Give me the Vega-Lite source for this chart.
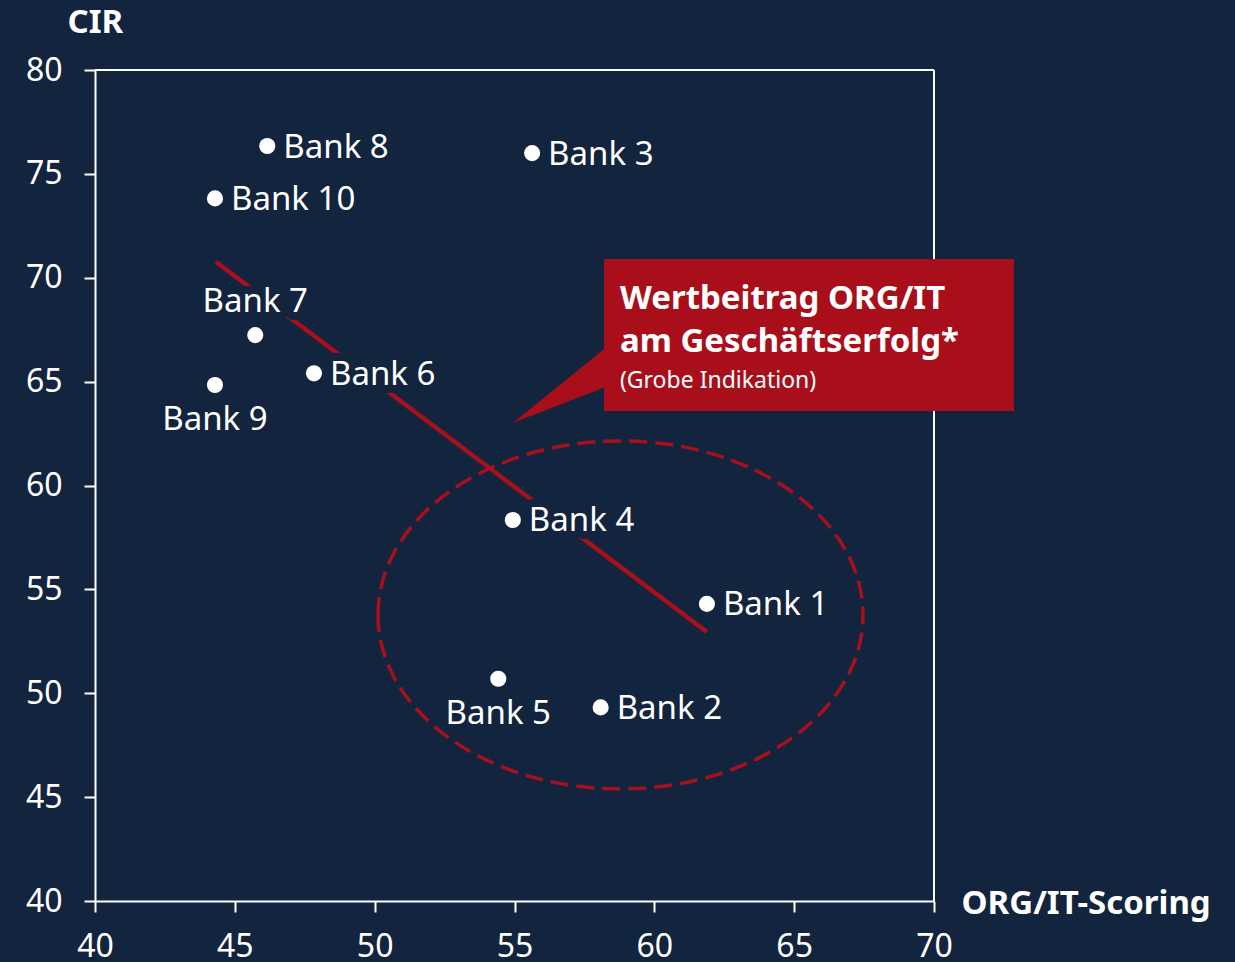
{
  "$schema": "https://vega.github.io/schema/vega-lite/v6.json",
  "width": 839,
  "height": 831,
  "autosize": "none",
  "padding": {"left": 95, "top": 70, "right": 301, "bottom": 61},
  "background": "#13243e",
  "config": {
    "view": {"stroke": null},
    "font": "Noto Sans",
    "axis": {
      "grid": false,
      "domainColor": "#ffffff",
      "domainWidth": 2,
      "tickColor": "#ffffff",
      "tickWidth": 2,
      "tickSize": 11,
      "labelColor": "#ffffff",
      "labelFontSize": 32,
      "labelFont": "Noto Sans",
      "titleColor": "#ffffff",
      "titleFont": "Noto Sans",
      "titleFontSize": 33,
      "titleFontWeight": "bold"
    }
  },
  "datasets": {
    "banks": [
      {"bank": "Bank 1", "x": 61.88, "y": 54.30},
      {"bank": "Bank 2", "x": 58.08, "y": 49.32},
      {"bank": "Bank 3", "x": 55.63, "y": 76.0},
      {"bank": "Bank 4", "x": 54.94, "y": 58.34},
      {"bank": "Bank 5", "x": 54.42, "y": 50.70},
      {"bank": "Bank 6", "x": 47.83, "y": 65.40},
      {"bank": "Bank 7", "x": 45.73, "y": 67.24},
      {"bank": "Bank 8", "x": 46.16, "y": 76.34},
      {"bank": "Bank 9", "x": 44.29, "y": 64.84},
      {"bank": "Bank 10", "x": 44.29, "y": 73.82}
    ],
    "frame": [
      {"x": 70, "y": 80}
    ],
    "trend": [
      {"x": 44.33, "y": 70.76},
      {"x": 61.88, "y": 52.95}
    ],
    "ellipse": [
      {"x": 58.79, "y": 53.77}
    ],
    "pointer": [
      {"x": 54.94, "y": 63.01, "y2": 63.01},
      {"x": 58.25, "y": 66.62, "y2": 64.745}
    ],
    "box": [
      {"x": 58.2, "x2": 72.86, "y": 70.9, "y2": 63.59}
    ],
    "boxTitle": [
      {"x": 58.77, "y": 68.5, "text": "Wertbeitrag ORG/IT"},
      {"x": 58.77, "y": 66.43, "text": "am Geschäftserfolg*"}
    ],
    "boxSub": [
      {"x": 58.77, "y": 64.7, "text": "(Grobe Indikation)"}
    ]
  },
  "layer": [
    {
      "data": {"name": "banks"},
      "mark": {"type": "point", "shape": "circle", "filled": true, "color": "#ffffff", "size": 260, "opacity": 1},
      "encoding": {
        "x": {
          "field": "x", "type": "quantitative",
          "scale": {"domain": [40, 70], "nice": false, "zero": false},
          "axis": {
            "values": [40, 45, 50, 55, 60, 65, 70],
            "title": "ORG/IT-Scoring",
            "titleAlign": "left",
            "titleBaseline": "alphabetic",
            "titleX": 866,
            "titleY": 12,
            "labelPadding": 19,
            "labelFlush": false,
            "labelOverlap": false
          }
        },
        "y": {
          "field": "y", "type": "quantitative",
          "scale": {"domain": [40, 80], "nice": false, "zero": false},
          "axis": {
            "values": [40, 45, 50, 55, 60, 65, 70, 75, 80],
            "title": "CIR",
            "titleAngle": 0,
            "titleAlign": "left",
            "titleBaseline": "alphabetic",
            "titleX": -28,
            "titleY": -38,
            "labelPadding": 22,
            "labelFlush": false,
            "labelOverlap": false
          }
        }
      }
    },
    {
      "data": {"name": "frame"},
      "mark": {"type": "rule", "color": "#ffffff", "strokeWidth": 2},
      "encoding": {"y": {"field": "y", "type": "quantitative"}}
    },
    {
      "data": {"name": "frame"},
      "mark": {"type": "rule", "color": "#ffffff", "strokeWidth": 2},
      "encoding": {"x": {"field": "x", "type": "quantitative"}}
    },
    {
      "data": {"name": "ellipse"},
      "mark": {
        "type": "point",
        "shape": "M-1,0C-1,-0.3963,-0.5523,-0.7175,0,-0.7175C0.5523,-0.7175,1,-0.3963,1,0C1,0.3963,0.5523,0.7175,0,0.7175C-0.5523,0.7175,-1,0.3963,-1,0Z",
        "filled": false,
        "size": 235225,
        "stroke": "#a8101c",
        "strokeWidth": 3.5,
        "strokeDash": [18, 8],
        "opacity": 1
      },
      "encoding": {
        "x": {"field": "x", "type": "quantitative"},
        "y": {"field": "y", "type": "quantitative"}
      }
    },
    {
      "data": {"name": "trend"},
      "mark": {"type": "line", "color": "#a8101c", "strokeWidth": 4.5, "strokeCap": "butt"},
      "encoding": {
        "x": {"field": "x", "type": "quantitative"},
        "y": {"field": "y", "type": "quantitative"}
      }
    },
    {
      "data": {"name": "pointer"},
      "mark": {"type": "area", "color": "#a80f1a", "opacity": 1},
      "encoding": {
        "x": {"field": "x", "type": "quantitative"},
        "y": {"field": "y", "type": "quantitative"},
        "y2": {"field": "y2"}
      }
    },
    {
      "data": {"name": "box"},
      "mark": {"type": "rect", "color": "#a80f1a", "opacity": 1},
      "encoding": {
        "x": {"field": "x", "type": "quantitative"},
        "x2": {"field": "x2"},
        "y": {"field": "y", "type": "quantitative"},
        "y2": {"field": "y2"}
      }
    },
    {
      "data": {"name": "boxTitle"},
      "mark": {"type": "text", "color": "#ffffff", "fontSize": 33, "fontWeight": "bold", "align": "left", "baseline": "alphabetic"},
      "encoding": {
        "x": {"field": "x", "type": "quantitative"},
        "y": {"field": "y", "type": "quantitative"},
        "text": {"field": "text"}
      }
    },
    {
      "data": {"name": "boxSub"},
      "mark": {"type": "text", "color": "#ffffff", "fontSize": 23, "align": "left", "baseline": "alphabetic"},
      "encoding": {
        "x": {"field": "x", "type": "quantitative"},
        "y": {"field": "y", "type": "quantitative"},
        "text": {"field": "text"}
      }
    },
    {
      "data": {"name": "banks"},
      "transform": [{"filter": {"field": "bank", "oneOf": ["Bank 1", "Bank 2", "Bank 3", "Bank 4", "Bank 6", "Bank 8", "Bank 10"]}}],
      "mark": {"type": "text", "fontSize": 33, "align": "left", "baseline": "alphabetic", "dx": 16, "dy": 11.5, "fill": "#13243e", "stroke": "#13243e", "strokeWidth": 16, "strokeJoin": "round"},
      "encoding": {
        "x": {"field": "x", "type": "quantitative"},
        "y": {"field": "y", "type": "quantitative"},
        "text": {"field": "bank"}
      }
    },
    {
      "data": {"name": "banks"},
      "transform": [{"filter": {"field": "bank", "oneOf": ["Bank 7"]}}],
      "mark": {"type": "text", "fontSize": 33, "align": "center", "baseline": "alphabetic", "dy": -23, "fill": "#13243e", "stroke": "#13243e", "strokeWidth": 16, "strokeJoin": "round"},
      "encoding": {
        "x": {"field": "x", "type": "quantitative"},
        "y": {"field": "y", "type": "quantitative"},
        "text": {"field": "bank"}
      }
    },
    {
      "data": {"name": "banks"},
      "transform": [{"filter": {"field": "bank", "oneOf": ["Bank 1", "Bank 2", "Bank 3", "Bank 4", "Bank 6", "Bank 8", "Bank 10"]}}],
      "mark": {"type": "text", "fontSize": 33, "align": "left", "baseline": "alphabetic", "dx": 16, "dy": 11.5, "color": "#ffffff"},
      "encoding": {
        "x": {"field": "x", "type": "quantitative"},
        "y": {"field": "y", "type": "quantitative"},
        "text": {"field": "bank"}
      }
    },
    {
      "data": {"name": "banks"},
      "transform": [{"filter": {"field": "bank", "oneOf": ["Bank 7"]}}],
      "mark": {"type": "text", "fontSize": 33, "align": "center", "baseline": "alphabetic", "dy": -23, "color": "#ffffff"},
      "encoding": {
        "x": {"field": "x", "type": "quantitative"},
        "y": {"field": "y", "type": "quantitative"},
        "text": {"field": "bank"}
      }
    },
    {
      "data": {"name": "banks"},
      "transform": [{"filter": {"field": "bank", "oneOf": ["Bank 5", "Bank 9"]}}],
      "mark": {"type": "text", "fontSize": 33, "align": "center", "baseline": "alphabetic", "dy": 45, "color": "#ffffff"},
      "encoding": {
        "x": {"field": "x", "type": "quantitative"},
        "y": {"field": "y", "type": "quantitative"},
        "text": {"field": "bank"}
      }
    }
  ]
}
